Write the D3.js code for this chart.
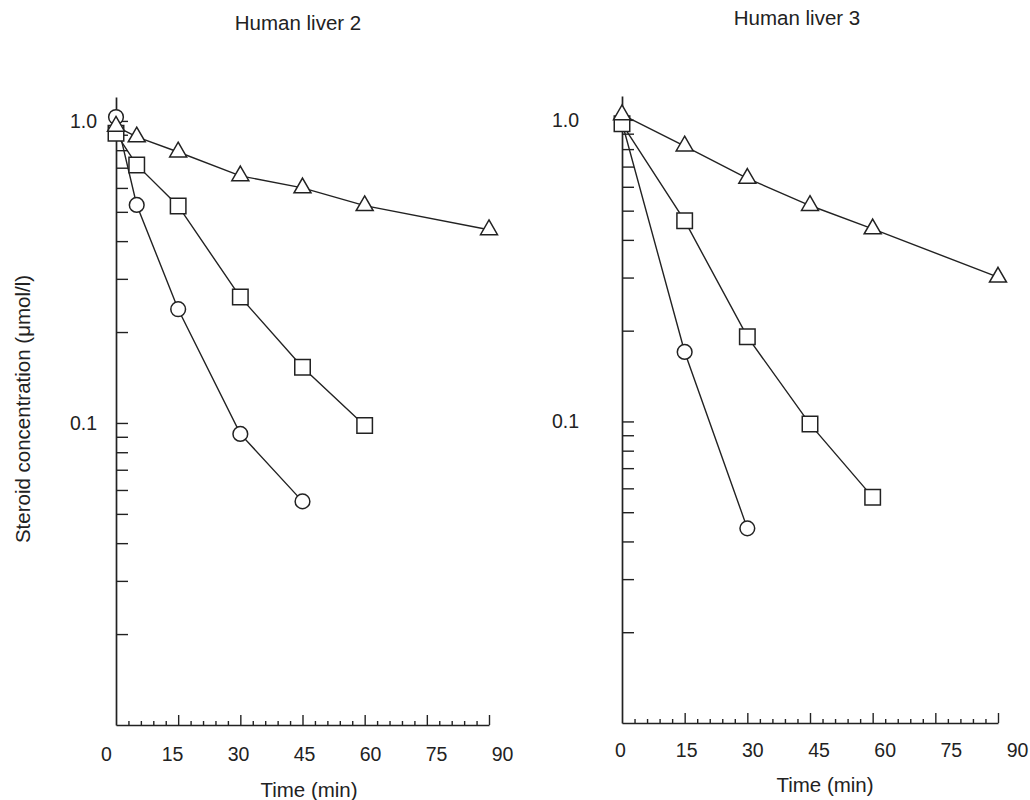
<!DOCTYPE html>
<html>
<head>
<meta charset="utf-8">
<script src="https://cdn.jsdelivr.net/npm/d3@7"></script>
<style>
  body { margin: 0; background: #fff; }
  text { font-family: "Liberation Sans", Arial, sans-serif; fill: #222; }
</style>
</head>
<body>
<div id="chart"></div>
<script>
// ---- data ----
const panelTitles = ["Human liver 2", "Human liver 3"];
const xTickValues = [0, 15, 30, 45, 60, 75, 90];
const yTickLabels = [1.0, 0.1];
const yMinorTicks = [0.02, 0.03, 0.04, 0.05, 0.06, 0.07, 0.08, 0.09, 0.1,
                     0.2, 0.3, 0.4, 0.5, 0.6, 0.7, 0.8, 0.9, 1.0];

// Human liver 2
const l2CircleTime = [0, 5, 15, 30, 45];
const l2CircleConc = [1.03, 0.527, 0.238, 0.092, 0.055];
const l2SquareTime = [0, 5, 15, 30, 45, 60];
const l2SquareConc = [0.91, 0.715, 0.523, 0.261, 0.153, 0.098];
const l2TriTime = [0, 5, 15, 30, 45, 60, 90];
const l2TriConc = [0.96, 0.885, 0.789, 0.658, 0.600, 0.524, 0.436];

// Human liver 3
const l3CircleTime = [0, 15, 30];
const l3CircleConc = [0.98, 0.170, 0.0442];
const l3SquareTime = [0, 15, 30, 45, 60];
const l3SquareConc = [0.97, 0.463, 0.191, 0.098, 0.0561];
const l3TriTime = [0, 15, 30, 45, 60, 90];
const l3TriConc = [1.04, 0.819, 0.640, 0.520, 0.435, 0.301];

const zip = (t, c) => t.map((d, i) => ({t: d, c: c[i]}));

// panel layout
const panels = [
  {title: panelTitles[0], x0: 116, x1: 489, yBot: 725, yTop: 97, lab0: 106, lab1: 502,
   labY: 761, yLabX: 97, titleX: 298, titleY: 30, xtX: 309, xtY: 797,
   series: [
     {shape: "circle", pts: zip(l2CircleTime, l2CircleConc)},
     {shape: "square", pts: zip(l2SquareTime, l2SquareConc)},
     {shape: "triangle", pts: zip(l2TriTime, l2TriConc)}
   ]},
  {title: panelTitles[1], x0: 622, x1: 998, yBot: 723, yTop: 96, lab0: 620, lab1: 1017,
   labY: 757, yLabX: 579, titleX: 797, titleY: 25, xtX: 825, xtY: 792,
   series: [
     {shape: "circle", pts: zip(l3CircleTime, l3CircleConc)},
     {shape: "square", pts: zip(l3SquareTime, l3SquareConc)},
     {shape: "triangle", pts: zip(l3TriTime, l3TriConc)}
   ]}
];

const svg = d3.select("#chart").append("svg")
  .attr("width", 1030)
  .attr("height", 800);

svg.append("rect").attr("width", 1030).attr("height", 800).attr("fill", "#fff");

// y axis title (shared, left)
svg.append("text")
  .attr("transform", "translate(22,409) rotate(-90)")
  .attr("text-anchor", "middle")
  .attr("dominant-baseline", "central")
  .attr("font-size", 20.5)
  .text("Steroid concentration (\u03bcmol/l)");

const symbols = {
  circle: d3.symbol(d3.symbolCircle, 170),
  square: d3.symbol(d3.symbolSquare, 240),
  triangle: d3.symbol(d3.symbolTriangle, 125)
};

panels.forEach(p => {
  const x = d3.scaleLinear().domain([0, 90]).range([p.x0, p.x1]);
  const xLab = d3.scaleLinear().domain([0, 90]).range([p.lab0, p.lab1]);
  const y = d3.scaleLog().domain([0.01, 1.2]).range([p.yBot, p.yTop]);
  const g = svg.append("g");

  // x axis: ticks point up, minor every 3 min
  const xAx = g.append("g")
    .attr("transform", `translate(0,${p.yBot})`)
    .call(d3.axisTop(x).tickValues(d3.range(3, 91, 3)).tickSizeOuter(0).tickFormat(""));
  xAx.selectAll(".tick line")
    .attr("y2", d => d % 15 === 0 ? -10 : -4);
  xAx.selectAll("line").attr("stroke", "#222").attr("stroke-width", 1.4);
  xAx.select(".domain").attr("stroke", "#222").attr("stroke-width", 1.7);

  // x tick labels
  g.append("g")
    .attr("transform", `translate(0,${p.labY})`)
    .call(d3.axisBottom(xLab).tickValues(xTickValues).tickSize(0).tickPadding(0))
    .call(a => a.select(".domain").remove())
    .selectAll("text")
    .attr("dy", 0)
    .attr("font-size", 19.5)
    .attr("font-family", "'Liberation Sans', Arial, sans-serif")
    .attr("fill", "#222");

  // y axis: ticks point right (inside)
  const yAx = g.append("g")
    .attr("transform", `translate(${p.x0},0)`)
    .call(d3.axisRight(y).tickValues(yMinorTicks).tickSize(12).tickSizeOuter(0).tickFormat(""));
  yAx.select(".domain").attr("stroke-width", 1.7).attr("stroke", "#222");
  yAx.selectAll(".tick line").attr("stroke", "#222").attr("stroke-width", 1.4);

  // y tick labels
  g.append("g")
    .attr("transform", `translate(${p.yLabX},0)`)
    .call(d3.axisLeft(y).tickValues(yTickLabels).tickSize(0).tickPadding(0)
      .tickFormat(d3.format(".1f")))
    .call(a => a.select(".domain").remove())
    .selectAll("text")
    .attr("font-size", 19.5)
    .attr("font-family", "'Liberation Sans', Arial, sans-serif")
    .attr("fill", "#222");

  // titles
  g.append("text")
    .attr("x", p.titleX).attr("y", p.titleY)
    .attr("text-anchor", "middle")
    .attr("font-size", 20.5)
    .text(p.title);
  g.append("text")
    .attr("x", p.xtX).attr("y", p.xtY)
    .attr("text-anchor", "middle")
    .attr("font-size", 20.5)
    .text("Time (min)");

  const line = d3.line().x(d => x(d.t)).y(d => y(d.c));

  p.series.forEach(s => {
    g.append("path")
      .datum(s.pts)
      .attr("d", line)
      .attr("fill", "none")
      .attr("stroke", "#222")
      .attr("stroke-width", 1.4);
  });

  p.series.forEach(s => {
    g.selectAll(null)
      .data(s.pts)
      .join("path")
      .attr("transform", d => `translate(${x(d.t)},${y(d.c)})`)
      .attr("d", symbols[s.shape])
      .attr("fill", "#fff")
      .attr("stroke", "#222")
      .attr("stroke-width", 1.5);
  });
});
</script>
</body>
</html>
